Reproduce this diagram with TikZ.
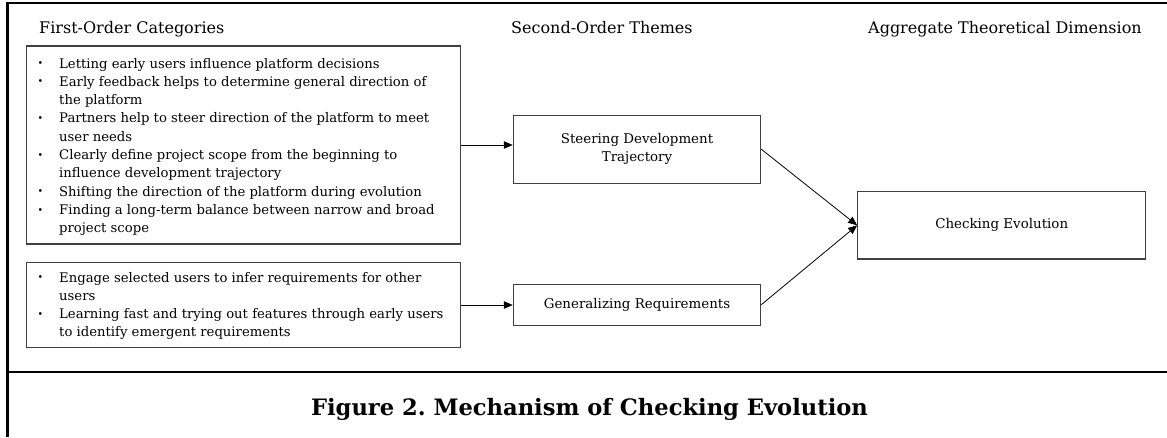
\documentclass[tikz,border=0pt]{standalone}
\usepackage{fontspec}
\setmainfont{DejaVu Serif}
\usetikzlibrary{arrows.meta}
\frenchspacing
\newcommand{\bul}{\makebox[21.5pt][l]{\raisebox{1.4pt}{\fontsize{9.5}{9.5}\selectfont\textbullet}}}
\begin{document}
\begin{tikzpicture}[x=1pt,y=-1pt,
  box/.style={draw=black!75, line width=1.1pt, inner sep=0pt, rectangle},
  frameline/.style={line width=2.4pt, black},
  conn/.style={-{Triangle[length=9pt,width=7.5pt]}, line width=0.8pt},
  hdr/.style={font=\fontsize{16}{19}\selectfont, anchor=base west, inner sep=0pt},
  lbl/.style={font=\fontsize{13.4}{18.3}\selectfont, align=center},
  items/.style={font=\fontsize{13.2}{18.33}\selectfont, anchor=base west, inner sep=0pt}]
\useasboundingbox (0,0) rectangle (1167,437);
\draw[frameline] (7.5,437) -- (7.5,3) -- (1167,3);
\draw[frameline] (7.5,371.7) -- (1167,371.7);

\node[hdr] (h1) at (39,33.5) {First-Order Categories};
\node[hdr] (h2) at (511,33.5) {Second-Order Themes};
\node[hdr] (h3) at (868,33.5) {Aggregate Theoretical Dimension};

\node[box, minimum width=434pt, minimum height=198pt] (b1) at (243.7,145) {};
\node[items] (t1) at (37.5,68) {\begin{tabular}[t]{@{}l@{}l@{}}
\bul & Letting early users influence platform decisions\\
\bul & Early feedback helps to determine general direction of\\
 & the platform\\
\bul & Partners help to steer direction of the platform to meet\\
 & user needs\\
\bul & Clearly define project scope from the beginning to\\
 & influence development trajectory\\
\bul & Shifting the direction of the platform during evolution\\
\bul & Finding a long-term balance between narrow and broad\\
 & project scope
\end{tabular}};

\node[box, minimum width=434pt, minimum height=84.6pt] (b2) at (243.7,305) {};
\node[items] (t2) at (37.5,282) {\begin{tabular}[t]{@{}l@{}l@{}}
\bul & Engage selected users to infer requirements for other\\
 & users\\
\bul & Learning fast and trying out features through early users\\
 & to identify emergent requirements
\end{tabular}};

\node[box, lbl, minimum width=247.4pt, minimum height=68.3pt] (s) at (637,149.2) {Steering Development\\Trajectory};
\node[box, lbl, minimum width=247.4pt, minimum height=40.7pt] (g) at (637,304.7) {Generalizing Requirements};
\node[box, lbl, minimum width=288pt, minimum height=67.3pt] (c) at (1001.7,225.3) {Checking Evolution};

\draw[conn] (b1.east) -- (b1.east -| s.west);
\draw[conn] (b2.east) -- (b2.east -| g.west);
\draw[conn] (s.east) -- (c.west);
\draw[conn] (g.east) -- (c.west);

\node[font=\bfseries\fontsize{22.6}{26}\selectfont, anchor=base, inner sep=0pt] (cap) at (589.5,415) {Figure 2. Mechanism of Checking Evolution};
\end{tikzpicture}
\end{document}
